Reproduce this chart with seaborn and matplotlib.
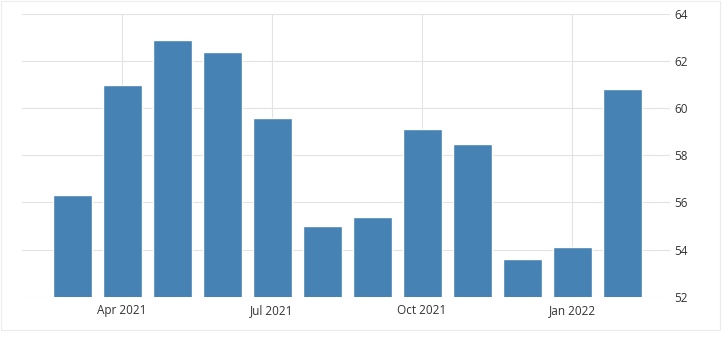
import matplotlib
matplotlib.use("Agg")
import matplotlib.pyplot as plt
import seaborn as sns
import pandas as pd
from matplotlib.patches import Rectangle

months = ["Mar 2021", "Apr 2021", "May 2021", "Jun 2021", "Jul 2021", "Aug 2021",
          "Sep 2021", "Oct 2021", "Nov 2021", "Dec 2021", "Jan 2022", "Feb 2022"]
values = [56.3, 61.0, 62.9, 62.4, 59.6, 55.0, 55.4, 59.1, 58.5, 53.6, 54.1, 60.8]
tick_labels = ["Apr 2021", "Jul 2021", "Oct 2021", "Jan 2022"]
y_ticks = [52, 54, 56, 58, 60, 62, 64]

df = pd.DataFrame({"month": months, "value": values})

sns.set_style("white")
plt.rcParams['font.family'] = ['Open Sans', 'DejaVu Sans']

fig = plt.figure(figsize=(7.28, 3.41), dpi=100)
ax = fig.add_axes([22/728, 44.3/341, (670-22)/728, (296.7-14)/341])

sns.barplot(data=df, x="month", y="value", color="#4682B4", saturation=1,
            width=0.78, ax=ax, zorder=3)

ax.set_ylim(52, 64)
ax.set_xlim(-1.0, 11.96)
ax.set_yticks(y_ticks)
ax.set_yticklabels([str(v) for v in y_ticks])
ax.yaxis.tick_right()
tick_pos = [months.index(t) for t in tick_labels]
ax.set_xticks(tick_pos)
ax.set_xticklabels(tick_labels)
ax.tick_params(axis="both", length=0, labelsize=8.5, colors="#333333")
ax.tick_params(axis="y", pad=3)
ax.tick_params(axis="x", pad=5)
ax.set_xlabel("")
ax.set_ylabel("")
ax.grid(True, axis="both", color="#e3e3e3", linewidth=0.8, linestyle="-", zorder=0)
ax.set_axisbelow(True)
for s in ax.spines.values():
    s.set_visible(False)

fig.patches.append(Rectangle((0.5/728, 11/341), 719/728, 329.5/341, transform=fig.transFigure,
                             fill=False, edgecolor="#ececec", linewidth=0.8))

fig.savefig("out.png", dpi=100)
